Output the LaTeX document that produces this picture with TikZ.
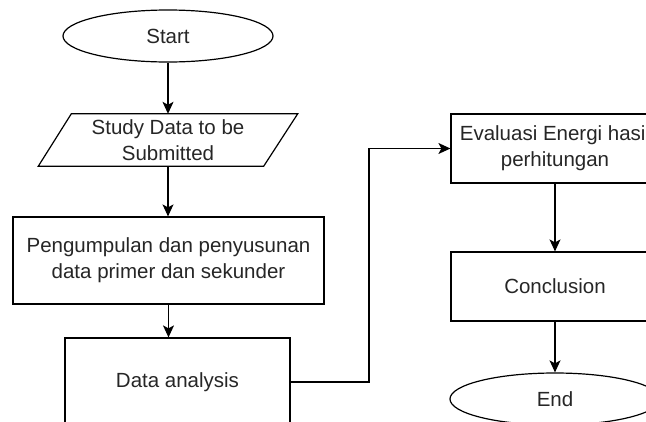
\documentclass[tikz,border=0pt]{standalone}
\usepackage{fontspec}
\setmainfont{Liberation Sans}
\usetikzlibrary{shapes.geometric,arrows.meta}
\begin{document}
\begin{tikzpicture}[x=1pt,y=-1pt,
  every node/.style={font=\fontsize{20.5}{26}\selectfont, text=black!85, inner sep=0pt, align=center},
  term/.style={ellipse, draw, line width=1.2pt, minimum width=210pt, minimum height=52pt},
  proc/.style={rectangle, draw, line width=1.2pt},
  flow/.style={line width=1.2pt, -{Stealth[length=12pt,width=11pt,inset=3pt]}}
]
\useasboundingbox (0,0) rectangle (646,421);
\clip (0,0) rectangle (646,421);
% left column
\node[term] (start) at (168,36) {Start};
\node[minimum width=259pt, minimum height=52pt] (study) at (168,140) {Study Data to be\\Submitted};
\draw[line width=1.2pt] ([xshift=33pt]study.north west) -- (study.north east) -- ([xshift=-34pt]study.south east) -- (study.south west) -- cycle;
\node[proc, minimum width=311pt, minimum height=87pt] (collect) at (168.5,260.5) {Pengumpulan dan penyusunan\\data primer dan sekunder};
\node[proc, minimum width=225pt, minimum height=88pt] (analysis) at (177.5,382) {Data analysis};
% right column
\node[proc, minimum width=208pt, minimum height=69pt] (eval) at (555,148.5) {Evaluasi Energi hasil\\perhitungan};
\node[proc, minimum width=208pt, minimum height=69pt] (concl) at (555,286.5) {Conclusion};
\node[term] (end) at (555,399) {End};
% connectors
\draw[flow] (start.south) -- (start.south |- study.north);
\draw[flow] (study.south) -- (study.south |- collect.north);
\draw[flow] (collect.south) -- (collect.south |- analysis.north);
\coordinate (bend) at (369,0);
\draw[flow] (analysis.east) -- (analysis.east -| bend) -- (bend |- eval.west) -- (eval.west);
\draw[flow] (eval) -- (concl);
\draw[flow] (concl) -- (end);
\end{tikzpicture}
\end{document}
